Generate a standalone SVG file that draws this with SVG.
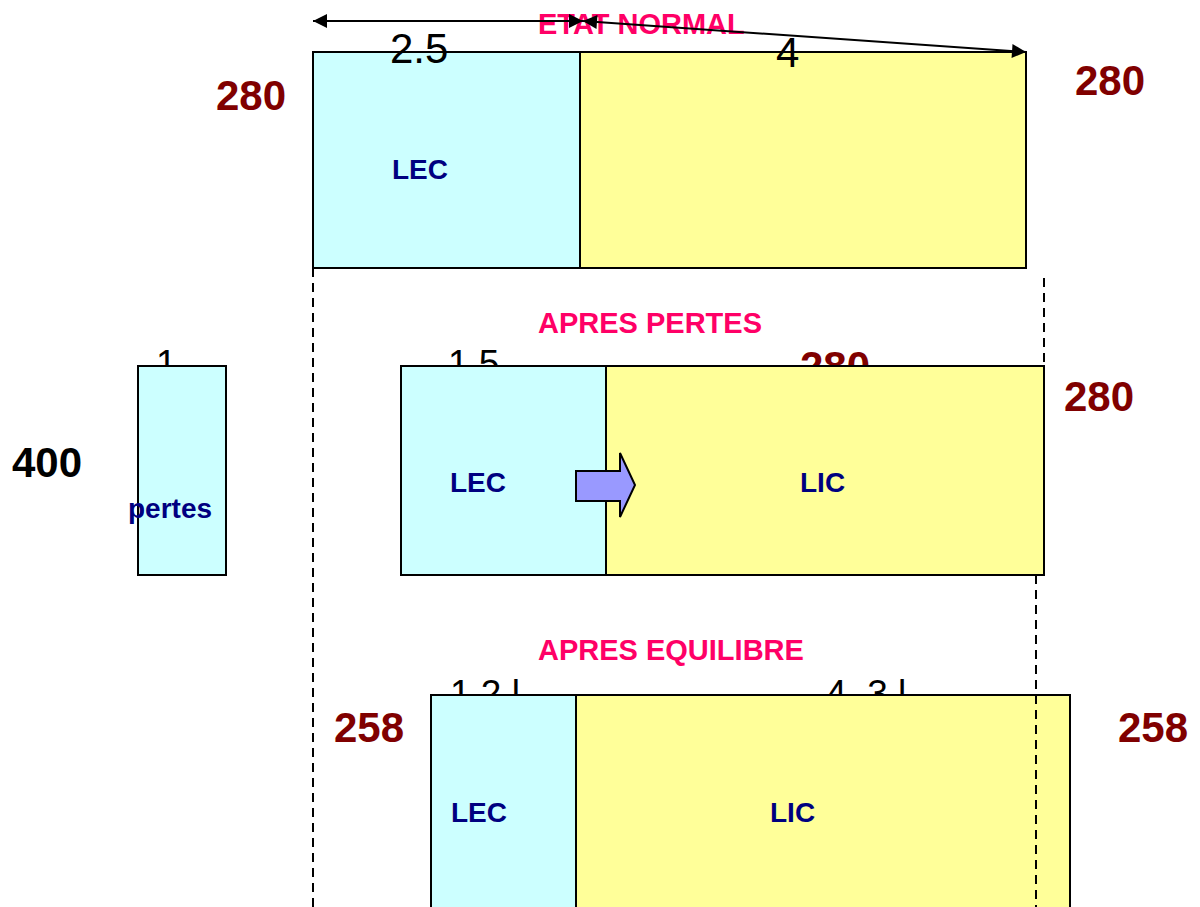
<svg xmlns="http://www.w3.org/2000/svg" width="1200" height="907" viewBox="0 0 1200 907">
<defs>
<style>
.lec{fill:#CCFFFF;stroke:#000;stroke-width:2}
.lic{fill:#FFFF99;stroke:#000;stroke-width:2}
.title{font-family:"Liberation Sans",Arial,sans-serif;font-weight:bold;font-size:29px;fill:#FF0066}
.val{font-family:"Liberation Sans",Arial,sans-serif;font-weight:bold;font-size:42px;fill:#800000}
.blk{fill:#000}
.lbl{font-family:"Liberation Sans",Arial,sans-serif;font-weight:bold;font-size:28px;fill:#000080}
.num{font-family:"Liberation Sans",Arial,sans-serif;font-size:42px;fill:#000}
.sm{font-family:"Liberation Sans",Arial,sans-serif;font-size:37px;fill:#000}
.dash{stroke:#000;stroke-width:2;stroke-dasharray:9,6;fill:none}
.arr{stroke:#000;stroke-width:2;fill:none}
</style>
<marker id="ah" viewBox="0 0 10 10" refX="10" refY="5" markerWidth="17" markerHeight="14" markerUnits="userSpaceOnUse" orient="auto-start-reverse">
<path d="M0,0 L10,5 L0,10 z" fill="#000"/>
</marker>
</defs>
<rect width="1200" height="907" fill="#fff"/>

<g id="connectors">
<line class="dash" x1="313" y1="268" x2="313" y2="907"/>
<line class="dash" x1="1044" y1="278" x2="1044" y2="366"/>
<line class="dash" x1="1036" y1="575" x2="1036" y2="695"/>
</g>

<g id="etat-normal">
<text class="title" x="538" y="34">ETAT NORMAL</text>
<text class="val" x="216" y="110">280</text>
<text class="val" x="1075" y="95">280</text>
<rect class="lec" x="313" y="52" width="267" height="216"/>
<rect class="lic" x="580" y="52" width="446" height="216"/>
<text class="lbl" x="392" y="179">LEC</text>
<text class="num" x="390" y="63">2.5</text>
<text class="num" x="776" y="67">4</text>
<line class="arr" x1="313" y1="21" x2="583" y2="21" marker-start="url(#ah)" marker-end="url(#ah)"/>
<line class="arr" x1="583" y1="21" x2="1026" y2="52" marker-start="url(#ah)" marker-end="url(#ah)"/>
</g>

<g id="pertes">
<text class="sm" x="156" y="376">1</text>
<rect class="lec" x="138" y="366" width="88" height="209"/>
<text class="lbl" x="128" y="518">pertes</text>
<text class="val blk" x="12" y="477">400</text>
</g>

<g id="apres-pertes">
<text class="title" x="538" y="333">APRES PERTES</text>
<text class="sm" x="448" y="376">1.5</text>
<text class="val" x="800" y="381">280</text>
<rect class="lec" x="401" y="366" width="205" height="209"/>
<rect class="lic" x="606" y="366" width="438" height="209"/>
<text class="val" x="1064" y="411">280</text>
<text class="lbl" x="450" y="492">LEC</text>
<text class="lbl" x="800" y="492">LIC</text>
<path d="M576,471 L620,471 L620,453 L635,485 L620,517 L620,501 L576,501 Z" fill="#9999FF" stroke="#000" stroke-width="2"/>
</g>

<g id="apres-equilibre">
<text class="title" x="538" y="660">APRES EQUILIBRE</text>
<text class="sm" x="450" y="706">1.2 l</text>
<text class="sm" x="826" y="706">4. 3 l</text>
<rect class="lec" x="431" y="695" width="145" height="230"/>
<rect class="lic" x="576" y="695" width="494" height="230"/>
<line class="dash" x1="1036" y1="695" x2="1036" y2="907"/>
<text class="val" x="334" y="742">258</text>
<text class="val" x="1118" y="742">258</text>
<text class="lbl" x="451" y="822">LEC</text>
<text class="lbl" x="770" y="822">LIC</text>
</g>
</svg>
